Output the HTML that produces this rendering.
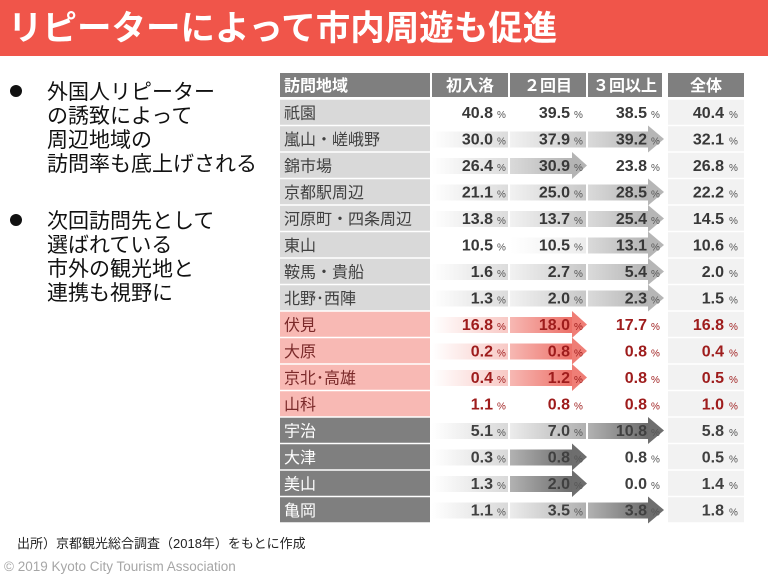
<!DOCTYPE html>
<html><head><meta charset="utf-8">
<style>
html,body{margin:0;padding:0;background:#fff;}
body{width:768px;height:576px;overflow:hidden;position:relative;font-family:"Liberation Sans","Noto Sans CJK JP",sans-serif;}
svg{position:absolute;left:0;top:0;}
.lb{font-family:"Liberation Sans","Noto Sans CJK JP",sans-serif;font-size:16px;}
.n{font-family:"Liberation Sans",sans-serif;font-weight:bold;font-size:16px;text-anchor:end;}
.p{font-family:"Liberation Sans",sans-serif;font-size:10px;}
.h{font-family:"Liberation Sans","Noto Sans CJK JP",sans-serif;font-weight:bold;font-size:16px;fill:#fff;}
.bt{font-family:"Liberation Sans","Noto Sans CJK JP",sans-serif;font-size:21px;fill:#111;}
</style></head><body>
<svg width="768" height="576" viewBox="0 0 768 576" xmlns="http://www.w3.org/2000/svg">
<defs>
<linearGradient id="gA"><stop offset="0" stop-color="#fff"/><stop offset="1" stop-color="#dcdcdc"/></linearGradient>
<linearGradient id="gB"><stop offset="0" stop-color="#f2f2f2"/><stop offset="1" stop-color="#c8c8c8"/></linearGradient>
<linearGradient id="gC"><stop offset="0" stop-color="#dadada"/><stop offset="1" stop-color="#b4b4b4"/></linearGradient>
<linearGradient id="gF"><stop offset="0" stop-color="#fff"/><stop offset="1" stop-color="#ececec"/></linearGradient>
<linearGradient id="pA"><stop offset="0" stop-color="#fff"/><stop offset="1" stop-color="#f8c9c5"/></linearGradient>
<linearGradient id="pC"><stop offset="0" stop-color="#f7b8b3"/><stop offset="1" stop-color="#ec7068"/></linearGradient>
<linearGradient id="dA"><stop offset="0" stop-color="#fff"/><stop offset="1" stop-color="#d9d9d9"/></linearGradient>
<linearGradient id="dB"><stop offset="0" stop-color="#ececec"/><stop offset="1" stop-color="#b0b0b0"/></linearGradient>
<linearGradient id="dC"><stop offset="0" stop-color="#b2b2b2"/><stop offset="1" stop-color="#6c6c6c"/></linearGradient>
</defs>

<!-- Title bar -->
<rect x="0" y="0" width="768" height="56" fill="#f0554a"/>
<text x="8" y="40" style="font-family:'Liberation Sans','Noto Sans CJK JP',sans-serif;font-size:34.5px;font-weight:bold;fill:#fff;">リピーターによって市内周遊も促進</text>

<!-- Bullets -->
<circle cx="16" cy="91" r="6" fill="#111"/>
<text class="bt" x="47" y="99">外国人リピーター</text>
<text class="bt" x="47" y="123">の誘致によって</text>
<text class="bt" x="47" y="147">周辺地域の</text>
<text class="bt" x="47" y="171">訪問率も底上げされる</text>
<circle cx="16" cy="220" r="6" fill="#111"/>
<text class="bt" x="47" y="228">次回訪問先として</text>
<text class="bt" x="47" y="252">選ばれている</text>
<text class="bt" x="47" y="276">市外の観光地と</text>
<text class="bt" x="47" y="300">連携も視野に</text>

<!-- Header -->
<rect x="280" y="73" width="150" height="24" fill="#7f7f7f"/>
<rect x="432" y="73" width="76" height="24" fill="#7f7f7f"/>
<rect x="510" y="73" width="76" height="24" fill="#7f7f7f"/>
<rect x="588" y="73" width="74" height="24" fill="#7f7f7f"/>
<rect x="668" y="73" width="76" height="24" fill="#7f7f7f"/>
<text class="h" x="284" y="91">訪問地域</text>
<text class="h" x="470" y="91" text-anchor="middle">初入洛</text>
<text class="h" x="548" y="91" text-anchor="middle">２回目</text>
<text class="h" x="625" y="91" text-anchor="middle">３回以上</text>
<text class="h" x="706" y="91" text-anchor="middle">全体</text>

<!-- Label column and total column backgrounds -->
<g>
<rect x="280" y="99.75" width="150" height="25" fill="#d9d9d9"/>
<rect x="280" y="126.25" width="150" height="25" fill="#d9d9d9"/>
<rect x="280" y="152.75" width="150" height="25" fill="#d9d9d9"/>
<rect x="280" y="179.25" width="150" height="25" fill="#d9d9d9"/>
<rect x="280" y="205.75" width="150" height="25" fill="#d9d9d9"/>
<rect x="280" y="232.25" width="150" height="25" fill="#d9d9d9"/>
<rect x="280" y="258.75" width="150" height="25" fill="#d9d9d9"/>
<rect x="280" y="285.25" width="150" height="25" fill="#d9d9d9"/>
<rect x="280" y="311.75" width="150" height="25" fill="#f8b9b4"/>
<rect x="280" y="338.25" width="150" height="25" fill="#f8b9b4"/>
<rect x="280" y="364.75" width="150" height="25" fill="#f8b9b4"/>
<rect x="280" y="391.25" width="150" height="25" fill="#f8b9b4"/>
<rect x="280" y="417.75" width="150" height="25" fill="#7f7f7f"/>
<rect x="280" y="444.25" width="150" height="25" fill="#7f7f7f"/>
<rect x="280" y="470.75" width="150" height="25" fill="#7f7f7f"/>
<rect x="280" y="497.25" width="150" height="25" fill="#7f7f7f"/>
</g>
<g fill="#f2f2f2">
<rect x="668" y="99.75" width="76" height="25"/>
<rect x="668" y="126.25" width="76" height="25"/>
<rect x="668" y="152.75" width="76" height="25"/>
<rect x="668" y="179.25" width="76" height="25"/>
<rect x="668" y="205.75" width="76" height="25"/>
<rect x="668" y="232.25" width="76" height="25"/>
<rect x="668" y="258.75" width="76" height="25"/>
<rect x="668" y="285.25" width="76" height="25"/>
<rect x="668" y="311.75" width="76" height="25"/>
<rect x="668" y="338.25" width="76" height="25"/>
<rect x="668" y="364.75" width="76" height="25"/>
<rect x="668" y="391.25" width="76" height="25"/>
<rect x="668" y="417.75" width="76" height="25"/>
<rect x="668" y="444.25" width="76" height="25"/>
<rect x="668" y="470.75" width="76" height="25"/>
<rect x="668" y="497.25" width="76" height="25"/>
</g>

<!-- Arrows -->
<rect x="432" y="131.5" width="76" height="16" fill="url(#gA)"/>
<rect x="510" y="131.5" width="76" height="16" fill="url(#gB)"/>
<rect x="588" y="131.5" width="60" height="16" fill="url(#gC)"/>
<polygon points="648,125.5 664,139 648,152.5" fill="#b6b6b6"/>

<rect x="432" y="158" width="76" height="16" fill="url(#gA)"/>
<rect x="510" y="158" width="62" height="16" fill="url(#gC)"/>
<polygon points="572,152 587,165.5 572,179" fill="#b4b4b4"/>

<rect x="432" y="184.5" width="76" height="16" fill="url(#gA)"/>
<rect x="510" y="184.5" width="76" height="16" fill="url(#gB)"/>
<rect x="588" y="184.5" width="60" height="16" fill="url(#gC)"/>
<polygon points="648,178.5 664,192 648,205.5" fill="#b6b6b6"/>

<rect x="432" y="211" width="76" height="16" fill="url(#gA)"/>
<rect x="510" y="211" width="76" height="16" fill="url(#gB)"/>
<rect x="588" y="211" width="60" height="16" fill="url(#gC)"/>
<polygon points="648,205 664,218.5 648,232" fill="#b6b6b6"/>

<rect x="510" y="237.5" width="76" height="16" fill="url(#gF)"/>
<rect x="588" y="237.5" width="60" height="16" fill="url(#gC)"/>
<polygon points="648,231.5 664,245 648,258.5" fill="#b6b6b6"/>

<rect x="432" y="264" width="76" height="16" fill="url(#gA)"/>
<rect x="510" y="264" width="76" height="16" fill="url(#gB)"/>
<rect x="588" y="264" width="60" height="16" fill="url(#gC)"/>
<polygon points="648,258 664,271.5 648,285" fill="#b6b6b6"/>

<rect x="432" y="290.5" width="76" height="16" fill="url(#gA)"/>
<rect x="510" y="290.5" width="76" height="16" fill="url(#gB)"/>
<rect x="588" y="290.5" width="60" height="16" fill="url(#gC)"/>
<polygon points="648,284.5 664,298 648,311.5" fill="#b6b6b6"/>

<rect x="432" y="317" width="76" height="16" fill="url(#pA)"/>
<rect x="510" y="317" width="62" height="16" fill="url(#pC)"/>
<polygon points="572,311 587,324.5 572,338" fill="#ef7e76"/>

<rect x="432" y="343.5" width="76" height="16" fill="url(#pA)"/>
<rect x="510" y="343.5" width="62" height="16" fill="url(#pC)"/>
<polygon points="572,337.5 587,351 572,364.5" fill="#ef7e76"/>

<rect x="432" y="370" width="76" height="16" fill="url(#pA)"/>
<rect x="510" y="370" width="62" height="16" fill="url(#pC)"/>
<polygon points="572,364 587,377.5 572,391" fill="#ef7e76"/>

<rect x="432" y="423" width="76" height="16" fill="url(#dA)"/>
<rect x="510" y="423" width="76" height="16" fill="url(#dB)"/>
<rect x="588" y="423" width="60" height="16" fill="url(#dC)"/>
<polygon points="648,417 664,430.5 648,444" fill="#6e6e6e"/>

<rect x="432" y="449.5" width="76" height="16" fill="url(#dA)"/>
<rect x="510" y="449.5" width="62" height="16" fill="url(#dC)"/>
<polygon points="572,443.5 587,457 572,470.5" fill="#6e6e6e"/>

<rect x="432" y="476" width="76" height="16" fill="url(#dA)"/>
<rect x="510" y="476" width="62" height="16" fill="url(#dC)"/>
<polygon points="572,470 587,483.5 572,497" fill="#6e6e6e"/>

<rect x="432" y="502.5" width="76" height="16" fill="url(#dA)"/>
<rect x="510" y="502.5" width="76" height="16" fill="url(#dB)"/>
<rect x="588" y="502.5" width="60" height="16" fill="url(#dC)"/>
<polygon points="648,496.5 664,510 648,523.5" fill="#6e6e6e"/>

<!-- Labels -->
<g class="lb" fill="#404040">
<text x="284" y="118.5">祇園</text>
<text x="284" y="145">嵐山・嵯峨野</text>
<text x="284" y="171.5">錦市場</text>
<text x="284" y="198">京都駅周辺</text>
<text x="284" y="224.5">河原町・四条周辺</text>
<text x="284" y="251">東山</text>
<text x="284" y="277.5">鞍馬・貴船</text>
<text x="284" y="304">北野･西陣</text>
</g>
<g class="lb" fill="#7b2a2a">
<text x="284" y="330.5">伏見</text>
<text x="284" y="357">大原</text>
<text x="284" y="383.5">京北･高雄</text>
<text x="284" y="410">山科</text>
</g>
<g class="lb" fill="#ffffff">
<text x="284" y="436.5">宇治</text>
<text x="284" y="463">大津</text>
<text x="284" y="489.5">美山</text>
<text x="284" y="516">亀岡</text>
</g>

<!-- Numbers gray rows -->
<g fill="#383838">
<g class="n">
<text x="493" y="118">40.8</text><text x="570" y="118">39.5</text><text x="647" y="118">38.5</text><text x="724" y="118">40.4</text>
<text x="493" y="144.5">30.0</text><text x="570" y="144.5">37.9</text><text x="647" y="144.5">39.2</text><text x="724" y="144.5">32.1</text>
<text x="493" y="171">26.4</text><text x="570" y="171">30.9</text><text x="647" y="171">23.8</text><text x="724" y="171">26.8</text>
<text x="493" y="197.5">21.1</text><text x="570" y="197.5">25.0</text><text x="647" y="197.5">28.5</text><text x="724" y="197.5">22.2</text>
<text x="493" y="224">13.8</text><text x="570" y="224">13.7</text><text x="647" y="224">25.4</text><text x="724" y="224">14.5</text>
<text x="493" y="250.5">10.5</text><text x="570" y="250.5">10.5</text><text x="647" y="250.5">13.1</text><text x="724" y="250.5">10.6</text>
<text x="493" y="277">1.6</text><text x="570" y="277">2.7</text><text x="647" y="277">5.4</text><text x="724" y="277">2.0</text>
<text x="493" y="303.5">1.3</text><text x="570" y="303.5">2.0</text><text x="647" y="303.5">2.3</text><text x="724" y="303.5">1.5</text>
</g>
</g>
<g fill="#555">
<g class="p">
<text x="497" y="118">%</text><text x="574" y="118">%</text><text x="651" y="118">%</text><text x="729" y="118">%</text>
<text x="497" y="144.5">%</text><text x="574" y="144.5">%</text><text x="651" y="144.5">%</text><text x="729" y="144.5">%</text>
<text x="497" y="171">%</text><text x="574" y="171">%</text><text x="651" y="171">%</text><text x="729" y="171">%</text>
<text x="497" y="197.5">%</text><text x="574" y="197.5">%</text><text x="651" y="197.5">%</text><text x="729" y="197.5">%</text>
<text x="497" y="224">%</text><text x="574" y="224">%</text><text x="651" y="224">%</text><text x="729" y="224">%</text>
<text x="497" y="250.5">%</text><text x="574" y="250.5">%</text><text x="651" y="250.5">%</text><text x="729" y="250.5">%</text>
<text x="497" y="277">%</text><text x="574" y="277">%</text><text x="651" y="277">%</text><text x="729" y="277">%</text>
<text x="497" y="303.5">%</text><text x="574" y="303.5">%</text><text x="651" y="303.5">%</text><text x="729" y="303.5">%</text>
</g>
</g>

<!-- Numbers red rows -->
<g fill="#9e1c1c">
<g class="n">
<text x="493" y="330">16.8</text><text x="570" y="330">18.0</text><text x="647" y="330">17.7</text><text x="724" y="330">16.8</text>
<text x="493" y="356.5">0.2</text><text x="570" y="356.5">0.8</text><text x="647" y="356.5">0.8</text><text x="724" y="356.5">0.4</text>
<text x="493" y="383">0.4</text><text x="570" y="383">1.2</text><text x="647" y="383">0.8</text><text x="724" y="383">0.5</text>
<text x="493" y="409.5">1.1</text><text x="570" y="409.5">0.8</text><text x="647" y="409.5">0.8</text><text x="724" y="409.5">1.0</text>
</g>
<g class="p">
<text x="497" y="330">%</text><text x="574" y="330">%</text><text x="651" y="330">%</text><text x="729" y="330">%</text>
<text x="497" y="356.5">%</text><text x="574" y="356.5">%</text><text x="651" y="356.5">%</text><text x="729" y="356.5">%</text>
<text x="497" y="383">%</text><text x="574" y="383">%</text><text x="651" y="383">%</text><text x="729" y="383">%</text>
<text x="497" y="409.5">%</text><text x="574" y="409.5">%</text><text x="651" y="409.5">%</text><text x="729" y="409.5">%</text>
</g>
</g>

<!-- Numbers dark rows -->
<g fill="#404040">
<g class="n">
<text x="493" y="436">5.1</text><text x="570" y="436">7.0</text><text x="647" y="436">10.8</text><text x="724" y="436">5.8</text>
<text x="493" y="462.5">0.3</text><text x="570" y="462.5">0.8</text><text x="647" y="462.5">0.8</text><text x="724" y="462.5">0.5</text>
<text x="493" y="489">1.3</text><text x="570" y="489">2.0</text><text x="647" y="489">0.0</text><text x="724" y="489">1.4</text>
<text x="493" y="515.5">1.1</text><text x="570" y="515.5">3.5</text><text x="647" y="515.5">3.8</text><text x="724" y="515.5">1.8</text>
</g>
</g>
<g fill="#555">
<g class="p">
<text x="497" y="436">%</text><text x="574" y="436">%</text><text x="651" y="436">%</text><text x="729" y="436">%</text>
<text x="497" y="462.5">%</text><text x="574" y="462.5">%</text><text x="651" y="462.5">%</text><text x="729" y="462.5">%</text>
<text x="497" y="489">%</text><text x="574" y="489">%</text><text x="651" y="489">%</text><text x="729" y="489">%</text>
<text x="497" y="515.5">%</text><text x="574" y="515.5">%</text><text x="651" y="515.5">%</text><text x="729" y="515.5">%</text>
</g>
</g>

<!-- Footer -->
<text x="17" y="548" style="font-family:'Liberation Sans','Noto Sans CJK JP',sans-serif;font-size:13px;fill:#222;">出所）京都観光総合調査（2018年）をもとに作成</text>
<text x="4" y="571" style="font-family:'Liberation Sans',sans-serif;font-size:13.5px;fill:#a6a6a6;">© 2019 Kyoto City Tourism Association</text>
</svg>
</body></html>
